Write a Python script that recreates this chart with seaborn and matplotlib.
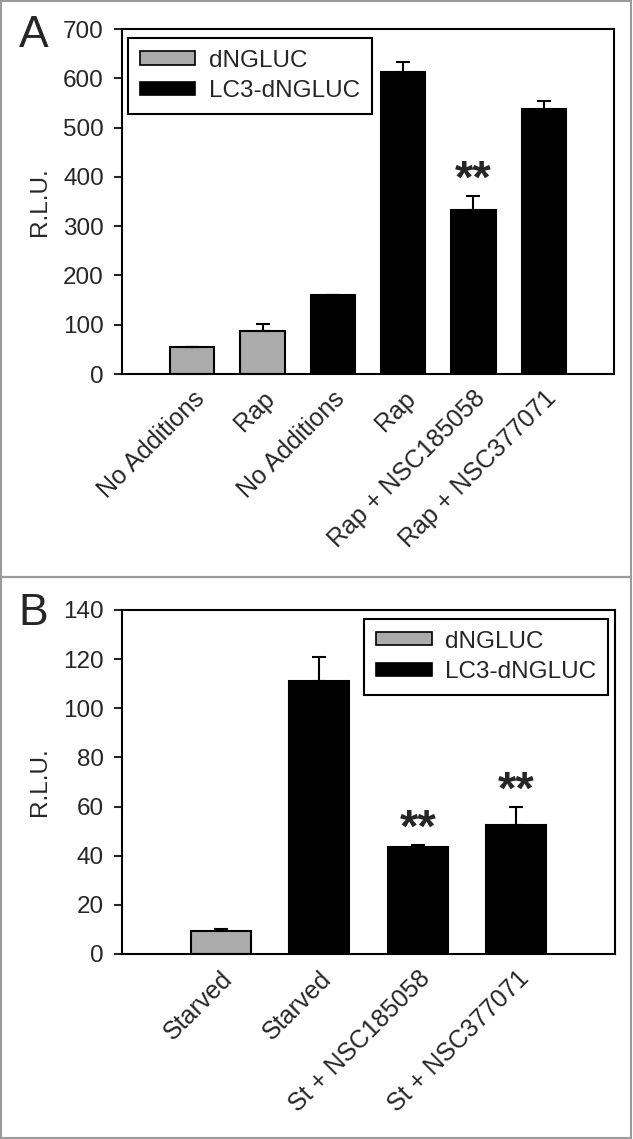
import pandas as pd
import numpy as np
import matplotlib
matplotlib.use("Agg")
import matplotlib.pyplot as plt
import seaborn as sns
from matplotlib.patches import Patch, Rectangle

# Panel A data (Rap treatment)
labels_a = ["No Additions", "Rap", "No Additions", "Rap", "Rap + NSC185058", "Rap + NSC377071"]
groups_a = ["dNGLUC", "dNGLUC", "LC3-dNGLUC", "LC3-dNGLUC", "LC3-dNGLUC", "LC3-dNGLUC"]
values_a = [55, 88, 160, 612, 332, 538]
errors_a = [0, 13, 0, 22, 30, 15]
stars_a = ["", "", "", "", "**", ""]

# Panel B data (starvation)
labels_b = ["Starved", "Starved", "St + NSC185058", "St + NSC377071"]
groups_b = ["dNGLUC", "LC3-dNGLUC", "LC3-dNGLUC", "LC3-dNGLUC"]
values_b = [9.5, 111, 43.7, 52.3]
errors_b = [0.7, 10, 0.7, 7.7]
stars_b = ["", "", "**", "**"]

colors = {"dNGLUC": "#ababab", "LC3-dNGLUC": "#000000"}

sns.set_style("white")
plt.rcParams['font.family'] = ['Liberation Sans', 'DejaVu Sans']

W, H = 633, 1139
FS = 17.5
fig = plt.figure(figsize=(W / 100, H / 100), dpi=100)
fig.patch.set_facecolor("white")


def px_axes(x0, x1, y0, y1):
    # pixel box -> figure fraction
    return fig.add_axes([x0 / W, 1 - y1 / H, (x1 - x0) / W, (y1 - y0) / H])


def draw_panel(ax, labels, groups, values, errors, stars, ymax, step, legend_loc, legend_anchor, width):
    df = pd.DataFrame({"pos": [str(i) for i in range(len(labels))],
                       "value": values, "group": groups})
    sns.barplot(data=df, x="pos", y="value", hue="group", palette=colors,
                dodge=False, width=width, edgecolor="black", linewidth=1.5,
                legend=False, ax=ax)
    x = np.arange(len(values))
    ax.errorbar(x, values, yerr=[np.zeros(len(errors)), errors], fmt="none",
                ecolor="black", elinewidth=1.5, capsize=5, capthick=1.5)
    for i, s in enumerate(stars):
        if s:
            ax.annotate(s, xy=(i, values[i] + errors[i]), xytext=(0, 2),
                        textcoords="offset points", ha="center", va="baseline",
                        fontsize=34, fontweight="bold")
    ax.set_xlim(-1, len(values))
    ax.set_ylim(0, ymax)
    ax.set_yticks(np.arange(0, ymax + 1, step))
    ax.set_xticks(x)
    ax.set_xticklabels(labels, rotation=45, ha="right", rotation_mode="anchor", fontsize=FS + 0.5)
    ax.tick_params(axis="y", direction="out", length=6, width=1.5, labelsize=FS, pad=7, left=True)
    ax.tick_params(axis="x", length=0, pad=9)
    ax.set_xlabel("")
    ax.set_ylabel("R.L.U.", fontsize=FS, labelpad=9)
    for sp in ax.spines.values():
        sp.set_visible(True)
        sp.set_color("black")
        sp.set_linewidth(1.5)
    handles = [Patch(facecolor=colors[g], edgecolor="black", linewidth=1.2, label=g)
               for g in ["dNGLUC", "LC3-dNGLUC"]]
    leg = ax.legend(handles=handles, loc=legend_loc, bbox_to_anchor=legend_anchor,
                    borderaxespad=0, fancybox=False, edgecolor="black", fontsize=FS,
                    handlelength=2.3, handleheight=0.45, handletextpad=0.55,
                    borderpad=0.48, framealpha=1, labelspacing=0.35)
    leg.get_frame().set_linewidth(1.5)


ax_a = px_axes(122, 614, 29, 374)
draw_panel(ax_a, labels_a, groups_a, values_a, errors_a, stars_a, 700, 100,
           "upper left", (0.012, 0.974), 0.63)
ax_a.text(-0.179, 0.98, "A", transform=ax_a.transAxes, fontsize=32, va="center", ha="center")

ax_b = px_axes(122, 615, 610, 954)
draw_panel(ax_b, labels_b, groups_b, values_b, errors_b, stars_b, 140, 20,
           "upper right", (0.986, 0.974), 0.61)
ax_b.text(-0.181, 0.99, "B", transform=ax_b.transAxes, fontsize=32, va="center", ha="center")

# panel frames
for y0, y1 in [(1, 577), (577, 1138)]:
    fig.patches.append(Rectangle((1 / W, 1 - y1 / H), (W - 3) / W, (y1 - y0) / H,
                                 transform=fig.transFigure, fill=False,
                                 edgecolor="#9a9a9a", linewidth=1.5))

fig.savefig("out.png", dpi=100)
